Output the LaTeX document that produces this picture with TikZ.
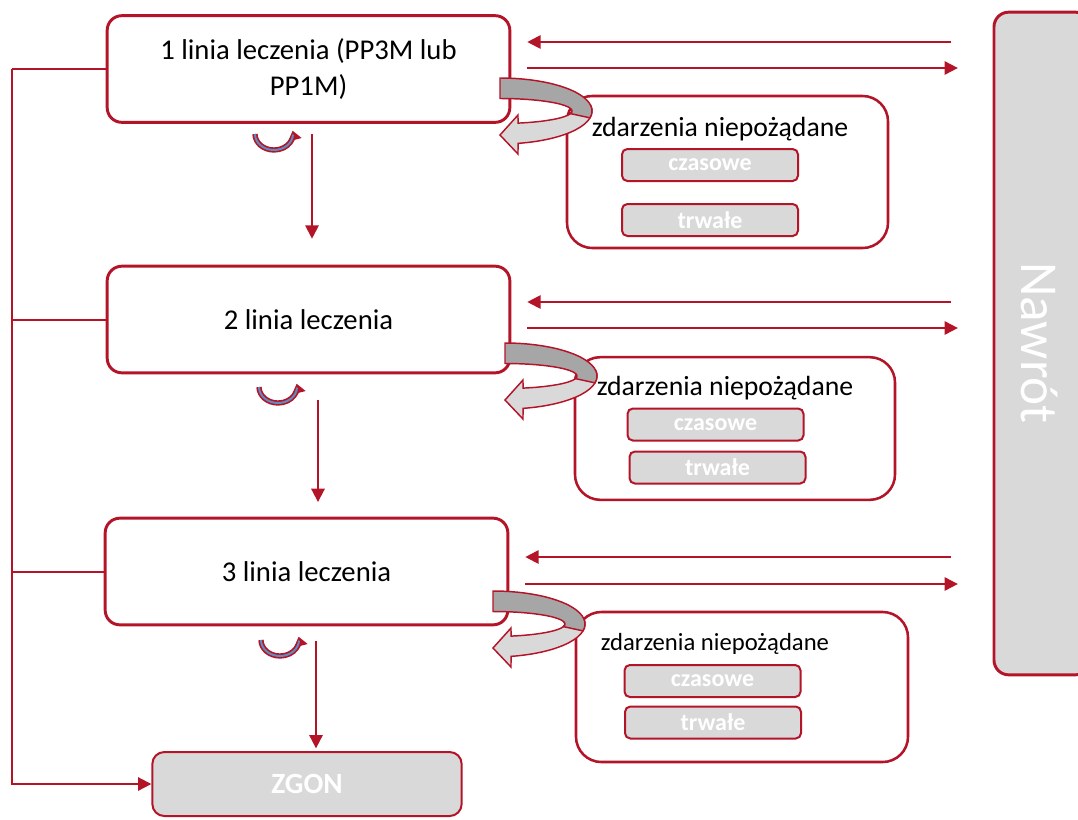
\documentclass[tikz,border=0pt]{standalone}
\usepackage{fontspec}
\setmainfont{Carlito}
\usetikzlibrary{positioning,arrows.meta}
\definecolor{lnred}{RGB}{180,20,40}
\definecolor{boxgray}{RGB}{217,217,217}
\definecolor{bandgray}{RGB}{166,166,166}
\definecolor{ublue}{RGB}{95,140,190}

\begin{document}
\begin{tikzpicture}[x=0.75pt, y=-0.75pt,
  line/.style={draw=lnred, line width=2.2pt, rounded corners=11pt, fill=white, minimum width=302pt, minimum height=80pt, align=center, font=\fontsize{21.5}{27}\selectfont},
  panel/.style={draw=lnred, line width=1.9pt, rounded corners=19pt, fill=white},
  kind/.style={draw=lnred, line width=1.5pt, rounded corners=4pt, fill=boxgray, text=white, minimum width=132pt, minimum height=24pt, inner sep=0pt, font=\bfseries\fontsize{18}{20}\selectfont},
  aetitle/.style={inner sep=0pt, font=\fontsize{20.8}{23}\selectfont},
  link/.style={draw=lnred, line width=1.5pt},
  arr/.style={link, -{Triangle[length=10pt,width=10pt]}},
  back/.style={arr, shorten <=31pt, shorten >=12pt},
  fwd/.style={arr, shorten <=12pt, shorten >=26pt},
  turn/.pic={
    \filldraw[draw=lnred, line width=1.1pt, fill=boxgray] (-10:92 and 33) arc[start angle=-10, end angle=78.7, x radius=92, y radius=33] -- (18,43) -- (0,24) -- (18,4) -- (75.5:72 and 12.5) arc[start angle=75.5, end angle=-10, x radius=72, y radius=12.5] -- cycle;
    \filldraw[draw=lnred, line width=1.1pt, fill=bandgray] (-90:92 and 33) arc[start angle=-90, end angle=12, x radius=92, y radius=33] -- (12:72 and 12.5) arc[start angle=12, end angle=-90, x radius=72, y radius=12.5] -- cycle;
  },
  uturn/.pic={
    \draw[lnred, line width=4pt, -{Triangle[length=7pt,width=10pt]}] (180:19 and 16) arc[start angle=180, end angle=-12, x radius=19, y radius=16];
    \draw[ublue, line width=1.5pt] (180:19 and 16) arc[start angle=180, end angle=2, x radius=19, y radius=16];
  }
]
\useasboundingbox (0,0) rectangle (1078,819);

% treatment lines
\node[line] (line1) at (308.5,69) {1 linia leczenia (PP3M lub\\PP1M)};
\node[line] (line2) at (308.5,319.5) {2 linia leczenia};
\node[line] (line3) at (306.5,571.5) {3 linia leczenia};
\node[draw=lnred, line width=1.5pt, rounded corners=9pt, fill=boxgray, text=white, minimum width=232pt, minimum height=48pt, font=\bfseries\fontsize{22}{24}\selectfont] (zgon) at (307,784) {ZGON};

\node[draw=lnred, line width=2.2pt, rounded corners=11pt, fill=boxgray, minimum width=72pt, minimum height=497pt] (nawrot) at (1042,343.5) {};
\node[rotate=-90, text=white, font=\fontsize{40}{40}\selectfont] (nawrottxt) at (1040,343) {Nawrót};

% adverse events
\node[panel, minimum width=240.75pt, minimum height=114pt] (ae1) at (727.5,172) {};
\node[aetitle] (ae1t) at (720,129) {zdarzenia niepożądane};
\node[kind] (tmp1) at (710,165) {czasowe};
\node[kind] (perm1) at (710,220) {trwałe};

\node[panel, minimum width=240pt, minimum height=107pt] (ae2) at (735,428.5) {};
\node[aetitle] (ae2t) at (725,388) {zdarzenia niepożądane};
\node[kind] (tmp2) at (715.5,424.5) {czasowe};
\node[kind] (perm2) at (717.5,467.5) {trwałe};

\node[panel, minimum width=249pt, minimum height=112.5pt] (ae3) at (742,687) {};
\node[aetitle, font=\fontsize{18.5}{22}\selectfont] (ae3t) at (715,644) {zdarzenia niepożądane};
\node[kind] (tmp3) at (712.5,681) {czasowe};
\node[kind] (perm3) at (713,722.5) {trwałe};

% relapse arrows
\draw[back] (nawrot.west |- 0,42) -- (line1.east |- 0,42);
\draw[fwd] (line1.east |- 0,68) -- (nawrot.west |- 0,68);
\draw[back] (nawrot.west |- 0,302) -- (line2.east |- 0,302);
\draw[fwd] (line2.east |- 0,328) -- (nawrot.west |- 0,328);
\draw[back] (nawrot.west |- 0,557) -- (line3.east |- 0,557);
\draw[fwd] (line3.east |- 0,584) -- (nawrot.west |- 0,584);

% next line
\draw[arr, shorten <=8pt, shorten >=19.5pt] (line1.south -| 312,0) -- (line2.north -| 312,0);
\draw[arr, shorten <=19pt, shorten >=11pt] (line2.south -| 318,0) -- (line3.north -| 318,0);
\draw[arr, shorten <=11pt, shorten >=2pt] (line3.south -| 316,0) -- (zgon.north -| 316,0);

% death from any line
\coordinate (bus) at (12,69);
\draw[link] (line1.west) -- (bus);
\draw[link] (line2.west) -- (line2.west -| bus);
\draw[link] (line3.west) -- (line3.west -| bus);
\draw[arr] (bus) |- (zgon.west);

\pic at (500,111) {turn};
\pic at (505,376) {turn};
\pic at (493,624) {turn};
\pic at (274,134) {uturn};
\pic at (278,387) {uturn};
\pic at (280,640) {uturn};

\end{tikzpicture}
\end{document}
